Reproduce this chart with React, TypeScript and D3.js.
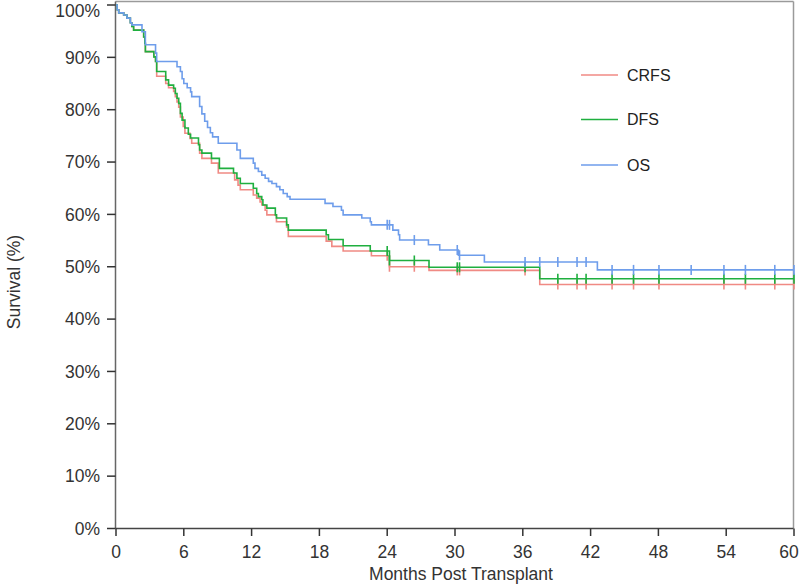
import React from "react";
import * as d3 from "d3";

// ---- Data (months, survival %) ----
const xTicks = [0, 6, 12, 18, 24, 30, 36, 42, 48, 54, 60];
const yTicks = [0, 10, 20, 30, 40, 50, 60, 70, 80, 90, 100];

const osTime = [0, 0.1, 0.24, 0.68, 0.97, 1.27, 1.4, 2.3, 2.6, 3.5, 3.6, 5.4, 5.7, 5.85, 6.0, 6.3, 6.6, 6.7, 7.4, 7.6, 7.85, 8.1, 8.35, 8.55, 9.05, 10.7, 11.0, 12.15, 12.3, 12.6, 12.9, 13.2, 13.5, 13.8, 14.2, 14.5, 14.8, 15.15, 15.4, 18.5, 19.2, 19.95, 20.1, 21.75, 22.5, 22.6, 24.5, 25.0, 25.1, 27.65, 28.65, 30.3, 32.6, 42.6];
const osSurv = [100, 99.1, 98.5, 98.1, 97.5, 96.6, 96.2, 94.9, 92.4, 90.8, 89.2, 88.2, 87.3, 85.9, 85.0, 84.2, 83.4, 82.5, 80.6, 79.2, 77.8, 76.6, 75.6, 74.8, 73.6, 72.3, 70.7, 69.8, 68.8, 68.2, 67.5, 66.9, 66.3, 65.9, 65.3, 64.7, 64.0, 63.4, 62.9, 62.1, 61.5, 60.8, 59.9, 59.3, 58.6, 58.0, 57.0, 56.1, 55.1, 54.2, 53.2, 52.2, 50.9, 49.4];
const osCensor = [24.0, 24.2, 26.4, 30.2, 30.4, 36.2, 37.5, 39.1, 40.8, 41.6, 43.9, 45.8, 48.05, 50.9, 53.8, 55.7, 58.3, 60];

const dfsTime = [0, 0.1, 0.24, 0.68, 0.97, 1.27, 1.4, 1.56, 2.45, 2.55, 2.6, 3.35, 3.5, 3.6, 4.4, 4.65, 5.1, 5.25, 5.4, 5.55, 5.7, 5.85, 6.1, 6.4, 6.6, 7.3, 7.4, 7.6, 8.45, 9.15, 10.4, 10.7, 11.0, 12.15, 12.45, 12.6, 12.9, 13.0, 13.35, 14.1, 14.2, 15.1, 15.25, 18.6, 18.8, 20.1, 22.5, 24.2, 27.7, 37.5];
const dfsSurv = [100, 99.1, 98.5, 98.1, 97.5, 96.6, 95.9, 95.2, 93.9, 92.7, 91.1, 90.1, 89.2, 87.3, 85.7, 84.7, 84.1, 83.1, 82.2, 81.2, 79.3, 78.0, 76.5, 75.3, 74.6, 73.3, 72.3, 71.7, 70.7, 68.8, 67.9, 66.9, 65.9, 65.0, 64.0, 63.4, 62.8, 61.8, 61.2, 59.9, 59.3, 58.0, 57.0, 56.1, 55.2, 54.0, 53.0, 51.2, 49.9, 47.7];
const dfsCensor = [24.0, 24.2, 26.4, 30.2, 30.4, 36.2, 39.1, 40.8, 41.6, 43.9, 45.8, 48.05, 53.8, 55.7, 58.3, 60];

const crfsTime = [0, 0.1, 0.24, 0.68, 0.97, 1.27, 1.4, 1.56, 2.45, 2.55, 2.6, 3.35, 3.5, 3.6, 4.4, 4.65, 5.1, 5.25, 5.4, 5.55, 5.7, 5.95, 6.1, 6.55, 6.7, 7.4, 7.6, 8.45, 9.05, 10.5, 10.8, 11.0, 12.15, 12.45, 12.75, 12.9, 13.2, 13.35, 14.2, 15.1, 15.25, 18.6, 19.1, 20.1, 22.6, 24.2, 27.7, 37.5];
const crfsSurv = [100, 99.1, 98.5, 98.1, 97.5, 96.6, 95.9, 95.2, 93.9, 92.7, 91.1, 90.1, 89.2, 86.4, 85.0, 84.2, 83.5, 82.5, 81.5, 80.5, 78.6, 76.8, 75.5, 74.5, 73.6, 71.7, 70.7, 69.8, 67.9, 66.6, 65.6, 64.7, 63.7, 63.1, 62.4, 61.8, 60.8, 59.9, 58.6, 57.6, 55.8, 54.9, 53.9, 53.0, 52.1, 50.0, 49.3, 46.6];
const crfsCensor = [24.0, 24.2, 26.4, 30.2, 30.4, 36.2, 39.1, 40.8, 41.6, 43.9, 45.8, 48.05, 53.8, 55.7, 58.3, 60];

const seriesNames = ["CRFS", "DFS", "OS"];
const seriesColors = ["#F08A84", "#1FAF3F", "#6E9DEB"];

const W = 800, H = 587;
const font = "'Liberation Sans', Arial, sans-serif";

export default function App() {
  const x = d3.scaleLinear().domain([0, 60]).range([116, 794]);
  const y = d3.scaleLinear().domain([0, 100]).range([528.5, 5]);

  const series = [
    { name: seriesNames[0], color: seriesColors[0], t: crfsTime, s: crfsSurv, c: crfsCensor },
    { name: seriesNames[1], color: seriesColors[1], t: dfsTime, s: dfsSurv, c: dfsCensor },
    { name: seriesNames[2], color: seriesColors[2], t: osTime, s: osSurv, c: osCensor },
  ];

  const line = d3
    .line<[number, number]>()
    .x((d) => x(d[0]))
    .y((d) => y(d[1]))
    .curve(d3.curveStepAfter);

  const valueAt = (t: number[], s: number[], time: number) => {
    const i = d3.bisectRight(t, time) - 1;
    return s[Math.max(0, i)];
  };

  const left = 115.5, right = 793.5, top = 1.5, bottom = 528.5;

  return (
    <svg width={W} height={H} style={{ position: "absolute", left: 0, top: 0, background: "#fff" }} fontFamily={font}>
      <rect x={0} y={0} width={W} height={H} fill="#fff" />
      {/* frame */}
      <line x1={left} x2={right} y1={top} y2={top} stroke="#9a9a9a" strokeWidth={1.5} />
      <line x1={right} x2={right} y1={top} y2={bottom} stroke="#9a9a9a" strokeWidth={1.5} />
      <line x1={left} x2={left} y1={top} y2={bottom} stroke="#666" strokeWidth={1.5} />
      <line x1={left} x2={right} y1={bottom} y2={bottom} stroke="#444" strokeWidth={1.5} />

      {/* y ticks */}
      {yTicks.map((v) => (
        <g key={"y" + v}>
          <line x1={107} x2={left} y1={y(v)} y2={y(v)} stroke="#333" strokeWidth={1.5} />
          <text x={100} y={Math.max(y(v), 10.5)} dy="0.36em" textAnchor="end" fontSize={17.5} fill="#333">
            {v + "%"}
          </text>
        </g>
      ))}
      {/* x ticks */}
      {xTicks.map((v) => (
        <g key={"x" + v}>
          <line x1={x(v)} x2={x(v)} y1={bottom} y2={536} stroke="#333" strokeWidth={1.5} />
          <text x={Math.min(x(v), 789)} y={558} textAnchor="middle" fontSize={17.5} fill="#333">
            {v}
          </text>
        </g>
      ))}

      {/* axis titles */}
      <text x={461} y={580} textAnchor="middle" fontSize={17.5} fill="#333">
        Months Post Transplant
      </text>
      <text transform="translate(20,282) rotate(-90)" textAnchor="middle" fontSize={17.5} fill="#333">
        Survival (%)
      </text>

      {/* curves */}
      {series.map((sr) => {
        const pts: [number, number][] = sr.t.map((t, i) => [t, sr.s[i]] as [number, number]);
        pts.push([60, sr.s[sr.s.length - 1]]);
        return (
          <g key={sr.name}>
            <path d={line(pts) || ""} fill="none" stroke={sr.color} strokeWidth={1.6} />
            {sr.c.map((ct, i) => {
              const v = valueAt(sr.t, sr.s, ct);
              return (
                <line
                  key={i}
                  x1={x(ct)}
                  x2={x(ct)}
                  y1={y(v) - 5}
                  y2={y(v) + 5}
                  stroke={sr.color}
                  strokeWidth={1.6}
                />
              );
            })}
          </g>
        );
      })}

      {/* legend */}
      {series.map((sr, i) => {
        const ly = [75, 119.5, 165][i];
        return (
          <g key={"lg" + sr.name}>
            <line x1={581} x2={618} y1={ly} y2={ly} stroke={sr.color} strokeWidth={1.6} />
            <text x={627} y={ly} dy="0.36em" fontSize={16} fill="#222">
              {sr.name}
            </text>
          </g>
        );
      })}
    </svg>
  );
}
